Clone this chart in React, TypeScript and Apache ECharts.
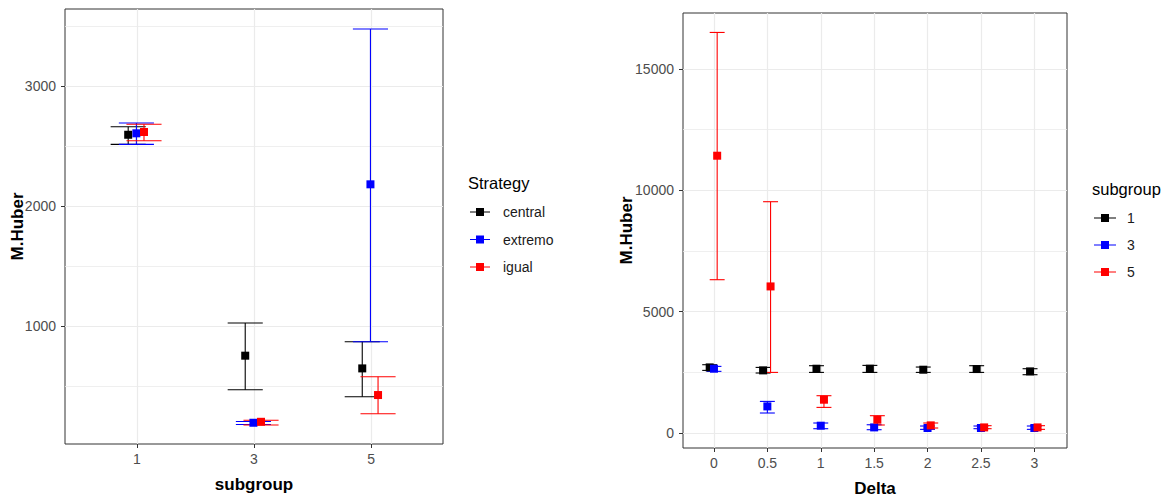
import React, { useEffect, useRef } from "react";
import * as echarts from "echarts";

// ---------- Left panel data ----------
const subgroups = [1, 3, 5];
const strategies = ["central", "extremo", "igual"];
const centralMean = [2594, 753, 647];
const centralLow = [2514, 469, 411];
const centralHigh = [2661, 1025, 869];
const extremoMean = [2606, 194, 2181];
const extremoLow = [2514, 180, 869];
const extremoHigh = [2692, 205, 3475];
const igualMean = [2617, 202, 425];
const igualLow = [2544, 175, 269];
const igualHigh = [2681, 215, 578];
const leftYTicks = [1000, 2000, 3000];
const leftYMinor = [500, 1500, 2500, 3500];

// ---------- Right panel data ----------
const deltas = [0, 0.5, 1, 1.5, 2, 2.5, 3];
const groupNames = ["1", "3", "5"];
const g1Mean = [2703, 2580, 2649, 2649, 2608, 2635, 2539];
const g1Low = [2580, 2472, 2497, 2497, 2497, 2497, 2402];
const g1High = [2814, 2703, 2773, 2786, 2718, 2773, 2649];
const g3Mean = [2649, 1096, 301, 231, 206, 206, 206];
const g3Low = [2540, 824, 177, 136, 150, 178, 150];
const g3High = [2745, 1302, 412, 340, 288, 288, 288];
const g5Mean = [11426, 6040, 1372, 548, 315, 231, 231];
const g5Low = [6317, 2497, 1055, 330, 206, 178, 150];
const g5High = [16506, 9531, 1537, 713, 412, 302, 302];
const rightYTicks = [0, 5000, 10000, 15000];
const rightYMinor = [2500, 7500, 12500];

// ---------- styling / layout constants ----------
const COLORS = ["#000000", "#0000FF", "#FF0000"];
const FONT = "'Liberation Sans', Arial, sans-serif";
const leftDodge = [-0.15, -0.01, 0.12];
const rightDodge = [-0.04, 0, 0.03];
const leftCapHalf = 0.3;
const rightCapHalf = 0.07;
const ICON = "path://M0,3.5H20V4.5H0Z M6,0H14V8H6Z";

function errorRender(color: string, capHalf: number) {
  return (params: any, api: any) => {
    const x = api.value(0);
    const lo = api.value(1);
    const hi = api.value(2);
    const pLo = api.coord([x, lo]);
    const pHi = api.coord([x, hi]);
    const pA = api.coord([x - capHalf, hi]);
    const pB = api.coord([x + capHalf, hi]);
    const half = (pB[0] - pA[0]) / 2;
    const style = { stroke: color, lineWidth: 1.1, fill: "none" };
    return {
      type: "group",
      children: [
        { type: "line", shape: { x1: pLo[0], y1: pLo[1], x2: pHi[0], y2: pHi[1] }, style },
        { type: "line", shape: { x1: pHi[0] - half, y1: pHi[1], x2: pHi[0] + half, y2: pHi[1] }, style },
        { type: "line", shape: { x1: pLo[0] - half, y1: pLo[1], x2: pLo[0] + half, y2: pLo[1] }, style },
      ],
    };
  };
}

function buildSeries(
  names: string[],
  xs: number[],
  means: number[][],
  lows: number[][],
  highs: number[][],
  dodge: number[],
  capHalf: number,
  axisIndex: number
) {
  const out: any[] = [];
  names.forEach((name, i) => {
    out.push({
      type: "custom",
      name,
      xAxisIndex: axisIndex,
      yAxisIndex: axisIndex * 2,
      renderItem: errorRender(COLORS[i], capHalf),
      encode: { x: 0, y: [1, 2] },
      data: xs.map((x, k) => [x + dodge[i], lows[i][k], highs[i][k]]),
      itemStyle: { color: COLORS[i] },
      z: 2,
      silent: true,
    });
  });
  names.forEach((name, i) => {
    out.push({
      type: "scatter",
      name,
      xAxisIndex: axisIndex,
      yAxisIndex: axisIndex * 2,
      symbol: "rect",
      symbolSize: 8,
      itemStyle: { color: COLORS[i], opacity: 1 },
      data: xs.map((x, k) => [x + dodge[i], means[i][k]]),
      z: 3,
      silent: true,
    });
  });
  return out;
}

const plain = (v: number) => String(v);
const tickLabel = { fontFamily: FONT, fontSize: 14, color: "#4D4D4D", margin: 8, formatter: plain };
const yTickLabel = { ...tickLabel, margin: 9 };
const nameStyle = { fontFamily: FONT, fontSize: 17, fontWeight: "bold" as const, color: "#000" };
const majorSplit = { show: true, lineStyle: { color: "#EBEBEB", width: 1.2 } };
const minorSplit = { show: true, lineStyle: { color: "#EBEBEB", width: 0.8 } };
const tickStyle = { show: true, length: 4, lineStyle: { color: "#333333", width: 1 } };
const noLine = { show: false, onZero: false };

export default function App() {
  const ref = useRef<HTMLDivElement>(null);
  useEffect(() => {
    if (!ref.current) return;
    const chart = echarts.init(ref.current, undefined, { renderer: "svg" });
    const option: any = {
      animation: false,
      backgroundColor: "#ffffff",
      textStyle: { fontFamily: FONT },
      grid: [
        { left: 65, top: 9, width: 378, height: 435, outerBoundsMode: "none", containLabel: false, show: true, borderColor: "#333333", borderWidth: 1, backgroundColor: "transparent" },
        { left: 683, top: 13, width: 384, height: 435, outerBoundsMode: "none", containLabel: false, show: true, borderColor: "#333333", borderWidth: 1, backgroundColor: "transparent" },
      ],
      xAxis: [
        {
          type: "value",
          gridIndex: 0,
          min: -0.23,
          max: 6.23,
          position: "bottom",
          name: "subgroup",
          nameLocation: "middle",
          nameGap: 32,
          nameMoveOverlap: false,
          nameTextStyle: nameStyle,
          axisLine: noLine,
          axisTick: { ...tickStyle, customValues: subgroups },
          axisLabel: { ...tickLabel, customValues: subgroups },
          splitLine: majorSplit,
        },
        {
          type: "value",
          gridIndex: 1,
          min: -0.29,
          max: 3.306,
          position: "bottom",
          name: "Delta",
          nameLocation: "middle",
          nameGap: 32,
          nameMoveOverlap: false,
          nameTextStyle: nameStyle,
          axisLine: noLine,
          axisTick: { ...tickStyle, customValues: deltas },
          axisLabel: { ...tickLabel, customValues: deltas },
          splitLine: majorSplit,
        },
      ],
      yAxis: [
        {
          type: "value",
          gridIndex: 0,
          min: 17,
          max: 3642,
          position: "left",
          name: "M.Huber",
          nameLocation: "middle",
          nameGap: 39,
          nameMoveOverlap: false,
          nameTextStyle: nameStyle,
          axisLine: noLine,
          axisTick: { ...tickStyle, customValues: leftYTicks },
          axisLabel: { ...yTickLabel, customValues: leftYTicks },
          splitLine: majorSplit,
        },
        {
          type: "value",
          gridIndex: 0,
          min: 17,
          max: 3642,
          position: "left",
          axisLine: noLine,
          axisTick: { show: false, customValues: leftYMinor },
          axisLabel: { show: false, customValues: leftYMinor },
          splitLine: minorSplit,
        },
        {
          type: "value",
          gridIndex: 1,
          min: -618,
          max: 17307,
          position: "left",
          name: "M.Huber",
          nameLocation: "middle",
          nameGap: 48,
          nameMoveOverlap: false,
          nameTextStyle: nameStyle,
          axisLine: noLine,
          axisTick: { ...tickStyle, customValues: rightYTicks },
          axisLabel: { ...yTickLabel, customValues: rightYTicks },
          splitLine: majorSplit,
        },
        {
          type: "value",
          gridIndex: 1,
          min: -618,
          max: 17307,
          position: "left",
          axisLine: noLine,
          axisTick: { show: false, customValues: rightYMinor },
          axisLabel: { show: false, customValues: rightYMinor },
          splitLine: minorSplit,
        },
      ],
      legend: [
        {
          data: strategies.map((n, i) => ({ name: n, itemStyle: { color: COLORS[i] } })),
          orient: "vertical",
          left: 470,
          top: 204,
          padding: 0,
          icon: ICON,
          itemWidth: 20,
          itemHeight: 8,
          itemGap: 11.5,
          selectedMode: false,
          textStyle: { fontFamily: FONT, fontSize: 14, color: "#1A1A1A", lineHeight: 16, padding: [0, 0, 0, 8] },
        },
        {
          data: groupNames.map((n, i) => ({ name: n, itemStyle: { color: COLORS[i] } })),
          orient: "vertical",
          left: 1094,
          top: 210,
          padding: 0,
          icon: "path://M0,3.5H22V4.5H0Z M7,0H15V8H7Z",
          itemWidth: 22,
          itemHeight: 8,
          itemGap: 11,
          selectedMode: false,
          textStyle: { fontFamily: FONT, fontSize: 14, color: "#1A1A1A", lineHeight: 16, padding: [0, 0, 0, 6] },
        },
      ],
      graphic: [
        { type: "text", left: 468, top: 174, style: { text: "Strategy", fontFamily: FONT, fontSize: 16.5, fill: "#000" } },
        { type: "text", left: 1092, top: 180, style: { text: "subgroup", fontFamily: FONT, fontSize: 16.5, fill: "#000" } },
      ],
      series: [
        ...buildSeries(
          strategies,
          subgroups,
          [centralMean, extremoMean, igualMean],
          [centralLow, extremoLow, igualLow],
          [centralHigh, extremoHigh, igualHigh],
          leftDodge,
          leftCapHalf,
          0
        ),
        ...buildSeries(
          groupNames,
          deltas,
          [g1Mean, g3Mean, g5Mean],
          [g1Low, g3Low, g5Low],
          [g1High, g3High, g5High],
          rightDodge,
          rightCapHalf,
          1
        ),
      ],
    };
    chart.setOption(option);
    return () => chart.dispose();
  }, []);
  return (
    <div
      ref={ref}
      style={{ position: "absolute", left: 0, top: 0, width: 1171, height: 498, background: "#fff" }}
    />
  );
}
